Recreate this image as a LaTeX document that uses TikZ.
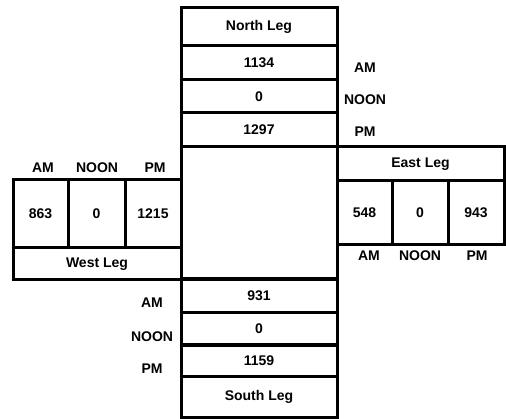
\documentclass[tikz,border=0pt]{standalone}
\usepackage{fontspec}
\setmainfont{Liberation Sans}[BoldFont={Liberation Sans Bold}]
\begin{document}
\begin{tikzpicture}[x=1pt,y=-1pt,
  cell/.style={draw=black,line width=3pt,inner sep=0pt,font=\bfseries\fontsize{14}{16}\selectfont},
  lab/.style={inner sep=0pt,font=\bfseries\fontsize{14}{16}\selectfont}]
\useasboundingbox[fill=white] (0,0) rectangle (506,419);
% North leg
\node[cell,minimum width=156pt,minimum height=38pt] (nleg) at (259,27) {North Leg};
\node[cell,minimum width=156pt,minimum height=34pt] (nam) at (259,63) {1134};
\node[cell,minimum width=156pt,minimum height=33pt] (nnoon) at (259,96.5) {0};
\node[cell,minimum width=156pt,minimum height=34pt] (npm) at (259,130) {1297};
% center
\node[cell,minimum width=156pt,minimum height=132pt] (center) at (259,213) {};
% South leg
\node[cell,minimum width=156pt,minimum height=33pt] (sam) at (259,296) {931};
\node[cell,minimum width=156pt,minimum height=33pt] (snoon) at (259,329) {0};
\node[cell,minimum width=156pt,minimum height=32pt] (spm) at (259,361) {1159};
\node[cell,minimum width=156pt,minimum height=40pt] (sleg) at (259,397) {South Leg};
% East leg
\node[cell,minimum width=167pt,minimum height=34pt] (eleg) at (420.5,164) {East Leg};
\node[cell,minimum width=55pt,minimum height=64pt] (eam) at (364.5,213) {548};
\node[cell,minimum width=56pt,minimum height=64pt] (enoon) at (420,213) {0};
\node[cell,minimum width=56pt,minimum height=64pt] (epm) at (476,213) {943};
% West leg
\node[cell,minimum width=55pt,minimum height=68pt] (wam) at (40.5,214) {863};
\node[cell,minimum width=57pt,minimum height=68pt] (wnoon) at (96.5,214) {0};
\node[cell,minimum width=56pt,minimum height=68pt] (wpm) at (153,214) {1215};
\node[cell,minimum width=168pt,minimum height=32pt] (wleg) at (97,264) {West Leg};
% labels
\node[lab] (lnam) at (365,68) {AM};
\node[lab] (lnnoon) at (365,100) {NOON};
\node[lab] (lnpm) at (365,132) {PM};
\node[lab] (lwam) at (43,168) {AM};
\node[lab] (lwnoon) at (97,168) {NOON};
\node[lab] (lwpm) at (155,168) {PM};
\node[lab] (leam) at (369,256) {AM};
\node[lab] (lenoon) at (420,256) {NOON};
\node[lab] (lepm) at (477,256) {PM};
\node[lab] (lsam) at (152,303) {AM};
\node[lab] (lsnoon) at (152,337) {NOON};
\node[lab] (lspm) at (152,369) {PM};
\end{tikzpicture}
\end{document}
